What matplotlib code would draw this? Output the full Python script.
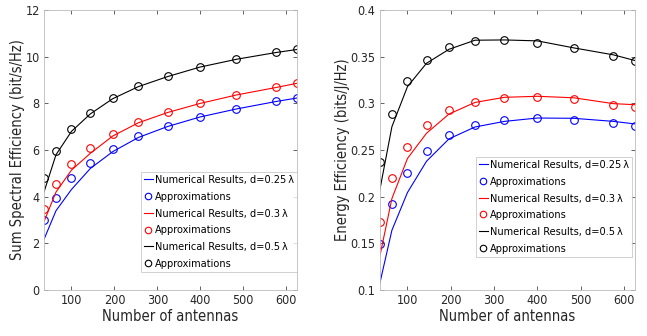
import numpy as np
import matplotlib.pyplot as plt

# number of antennas (square arrays)
antennas = [36, 64, 100, 144, 196, 256, 324, 400, 484, 576, 625]

# sum spectral efficiency (bit/s/Hz)
se_num_025 = [2.17, 3.40, 4.31, 5.21, 5.93, 6.54, 7.01, 7.42, 7.76, 8.08, 8.23]
se_app_025 = [3.00, 3.96, 4.79, 5.46, 6.04, 6.59, 7.03, 7.43, 7.77, 8.09, 8.24]
se_num_03 = [2.93, 4.20, 5.14, 5.86, 6.60, 7.17, 7.61, 8.00, 8.36, 8.68, 8.86]
se_app_03 = [3.49, 4.54, 5.39, 6.10, 6.69, 7.19, 7.63, 8.01, 8.37, 8.69, 8.86]
se_num_05 = [4.20, 5.80, 6.80, 7.55, 8.20, 8.72, 9.15, 9.56, 9.89, 10.18, 10.31]
se_app_05 = [4.79, 5.97, 6.90, 7.60, 8.23, 8.74, 9.17, 9.57, 9.90, 10.19, 10.31]

# energy efficiency (bits/J/Hz)
ee_num_025 = [0.107, 0.164, 0.2045, 0.238, 0.262, 0.2747, 0.2807, 0.2843, 0.284, 0.2807, 0.278]
ee_app_025 = [0.149, 0.192, 0.225, 0.249, 0.2657, 0.2768, 0.2818, 0.284, 0.2818, 0.2786, 0.276]
ee_num_03 = [0.136, 0.198, 0.241, 0.268, 0.2886, 0.301, 0.3065, 0.3076, 0.306, 0.2997, 0.2986]
ee_app_03 = [0.173, 0.2195, 0.253, 0.2765, 0.293, 0.302, 0.3058, 0.3065, 0.3044, 0.2986, 0.296]
ee_num_05 = [0.207, 0.275, 0.318, 0.343, 0.358, 0.3677, 0.368, 0.367, 0.3595, 0.352, 0.346]
ee_app_05 = [0.2367, 0.289, 0.324, 0.3466, 0.360, 0.367, 0.3677, 0.3648, 0.359, 0.3505, 0.3455]

labels_d = ["0.25", "0.3", "0.5"]
colors = ["#0000ff", "#ff0000", "#000000"]

plt.rcParams["font.family"] = ["DejaVu Sans"]
plt.rcParams["font.stretch"] = "condensed"

fig = plt.figure(figsize=(6.47, 3.36), dpi=100)
ax1 = fig.add_axes([0.068, 0.137, 0.391, 0.833])
ax2 = fig.add_axes([0.587, 0.137, 0.394, 0.833])

se_sets = [(se_num_025, se_app_025), (se_num_03, se_app_03), (se_num_05, se_app_05)]
ee_sets = [(ee_num_025, ee_app_025), (ee_num_03, ee_app_03), (ee_num_05, ee_app_05)]

for ax, sets in [(ax1, se_sets), (ax2, ee_sets)]:
    for (num, app), c, d in zip(sets, colors, labels_d):
        ax.plot(antennas, num, color=c, lw=0.8,
                label=f"Numerical Results, d={d}\u2009λ")
        ax.plot(antennas, app, ls="none", marker="o", mfc="none", mec=c,
                ms=5.5, mew=0.8, label="Approximations")
    ax.set_xlim(36, 625)
    ax.set_xticks([100, 200, 300, 400, 500, 600])
    ax.tick_params(direction="in", top=True, right=True, labelsize=9,
                   colors="#262626", length=3, width=0.5, pad=3)
    for s in ax.spines.values():
        s.set_color("#bcbcbc")
        s.set_linewidth(0.6)
    ax.set_xlabel("Number of antennas", fontsize=10.5, color="#262626", labelpad=1)

ax1.set_ylim(0, 12)
ax1.set_yticks(range(0, 13, 2))
ax1.set_ylabel("Sum Spectral Efficiency (bit/s/Hz)", fontsize=10.5, color="#262626", labelpad=0)
ax2.set_ylim(0.1, 0.4)
ax2.set_yticks([0.1, 0.15, 0.2, 0.25, 0.3, 0.35, 0.4])
ax2.set_yticklabels(["0.1", "0.15", "0.2", "0.25", "0.3", "0.35", "0.4"])
ax2.set_ylabel("Energy Efficiency (bits/J/Hz)", fontsize=10.5, color="#262626", labelpad=0)

for ax, anchor in [(ax1, (1.0, 0.064)), (ax2, (0.99, 0.118))]:
    leg = ax.legend(loc="lower right", bbox_to_anchor=anchor, fontsize=7.8,
                    handlelength=0.8, handletextpad=0.2, labelspacing=0.62,
                    borderpad=0.3, borderaxespad=0.0, fancybox=False,
                    markerscale=0.85, frameon=True, edgecolor="#bcbcbc")
    leg.get_frame().set_linewidth(0.6)

fig.savefig("out.png", dpi=100)
